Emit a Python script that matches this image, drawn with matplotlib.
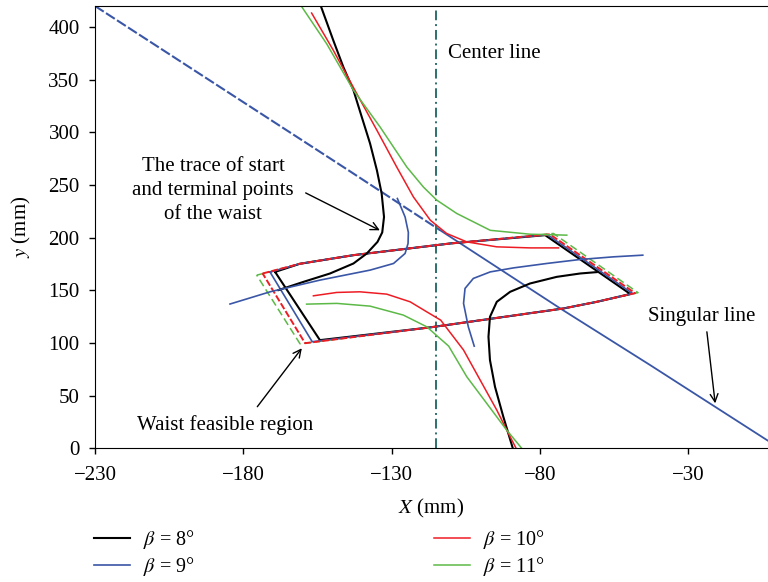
import matplotlib
matplotlib.use("Agg")
import matplotlib.pyplot as plt

#########
#########data#########
#########
betas = [8, 9, 10, 11]
colors = ["#000000", "#3a56a6", "#ed1c24", "#5cb947"]

# upper / left branch of the trace of start and terminal points
upper_x = [
    [-153.9, -149.7, -146.3, -142.9, -140.1, -137.3, -135.0, -133.4, -132.6, -133.2, -134.8,
     -138.4, -142.9, -150.8, -159.8, -168.2],
    [-128.1, -125.5, -124.4, -124.5, -125.5, -129.4, -137.3, -154.2, -171.0, -184.5],
    [-157.0, -149.7, -141.8, -135.0, -128.3, -122.7, -117.0, -111.5, -104.7, -94.6, -83.4, -73.8],
    [-160.5, -151.9, -142.9, -133.9, -124.9, -119.3, -114.8, -108.1, -96.8, -83.4, -71.0],
]
upper_y = [
    [420, 387.4, 362, 340, 314.6, 289.4, 264, 242, 219.7, 205, 196,
     185, 175.5, 166, 158, 150.2],
    [237.2, 219.7, 205, 194.5, 185, 175.5, 169.2, 159.7, 148.6, 137],
    [413.3, 378, 336.8, 302, 267, 238.7, 216.6, 204, 196, 191.3, 190.3, 190.3],
    [420, 384, 340, 305, 267, 248, 235.6, 223, 207, 203.3, 202.4],
]

# lower / right branch
lower_x = [
    [-89.2, -92.4, -95.2, -96.9, -97.4, -96.9, -94.6, -90.1, -83.4, -74.4, -66.5, -60.9],
    [-102.2, -104.2, -105.8, -105.3, -102.5, -96.8, -89.0, -77.8, -66.5, -55.3, -45.4],
    [-156.4, -148.5, -140.7, -131.7, -123.8, -118.2, -113.5, -105.8, -100.2, -94.6, -90.1, -88.1],
    [-158.7, -148.5, -137.3, -126.1, -118.2, -110.8, -104.7, -98.0, -91.3, -86.2],
]
lower_y = [
    [0, 30, 58.4, 83.8, 105.9, 124.8, 139.1, 148.6, 156.5, 162.8, 166, 167.3],
    [97, 115.4, 137.6, 151.8, 161.3, 167.5, 171.3, 175.5, 179.3, 181.8, 183.4],
    [144.8, 148, 148.6, 146.4, 139.1, 129.6, 121.7, 93.3, 64.8, 36.3, 11, 0],
    [136.9, 137.6, 135, 126.5, 115.4, 97, 67.9, 42.7, 17.4, 0],
]

# waist feasible region: corners per beta (top-left, top-right, right, bottom-left)
corner_x = [
    [-169.3, -78.3, -49.6, -154.2],
    [-171.0, -77.5, -48.8, -156.8],
    [-173.5, -76.7, -48.0, -159.2],
    [-175.5, -75.5, -47.0, -160.9],
]
corner_y = [
    [167.5, 202.4, 146.5, 102.7],
    [167.3, 202.8, 146.9, 101.2],
    [166.0, 203.2, 147.3, 99.8],
    [164.4, 204.0, 147.8, 99.2],
]
# shared points along the top and bottom edges
top_edge_x = [-161.0, -142.9, -110.3]
top_edge_y = [175.2, 183.4, 194.5]
bottom_edge_x = [-60.9, -72.1, -117.1]
bottom_edge_y = [139.1, 132.8, 114.8]

singular_x = [-230, -144.6, -113.7, -73.2, -42.9, -3.6, 0]
singular_y = [420, 264, 207.1, 132.8, 79, 7.9, 1.5]
singular_dash_end = 2  # the part left of this point is dashed

center_x = -115.2

xticks = [-230, -180, -130, -80, -30]
yticks = [0, 50, 100, 150, 200, 250, 300, 350, 400]

#########
#########plot#########
#########
plt.rcParams["font.family"] = ["Liberation Serif", "DejaVu Serif"]
plt.rcParams["mathtext.fontset"] = "stix"
plt.rcParams["font.size"] = 15

fig = plt.figure(figsize=(7.68, 5.82), dpi=100)
ax = fig.add_axes([95 / 768, 1 - 448.3 / 582, 1 - 95 / 768, (448.3 - 6) / 582])

# singular line
ax.plot(singular_x[:singular_dash_end + 1], singular_y[:singular_dash_end + 1],
        color="#3a56a6", lw=1.5, dashes=(5, 1.3))
ax.plot(singular_x[singular_dash_end:], singular_y[singular_dash_end:],
        color="#3a56a6", lw=1.3)

# center line
ax.axvline(center_x, color="#2d706b", lw=1.4, linestyle=(0, (5, 2, 1, 2)))

# waist feasible regions
region_styles = [dict(lw=1.5), dict(lw=1.2), dict(lw=1.4, dashes=(3.5, 1.2)), dict(lw=1.1, dashes=(5, 2.5))]
for k in [3, 0, 1, 2]:
    tl, tr, r, bl = zip(corner_x[k], corner_y[k])
    xs = [tl[0]] + top_edge_x + [tr[0], r[0]] + bottom_edge_x + [bl[0], tl[0]]
    ys = [tl[1]] + top_edge_y + [tr[1], r[1]] + bottom_edge_y + [bl[1], tl[1]]
    ax.plot(xs, ys, color=colors[k], **region_styles[k])

lws = [1.5, 1.2, 1.1, 1.1]
for k in range(4):
    ax.plot(upper_x[k], upper_y[k], color=colors[k], lw=lws[k],
            label=r"$\beta$ = %d°" % betas[k])
    ax.plot(lower_x[k], lower_y[k], color=colors[k], lw=lws[k])

# annotations
arrow = dict(arrowstyle="->", lw=1.0, color="k", shrinkA=0, shrinkB=0, mutation_scale=14)
ax.text(-111, 375, "Center line", ha="left", va="center")
ax.text(-190.2, 245, "The trace of start\nand terminal points\nof the waist",
        ha="center", va="center", multialignment="center", linespacing=1.35)
ax.annotate("", xy=(-134, 207), xytext=(-159, 242.5), arrowprops=arrow)
ax.text(-186.2, 22, "Waist feasible region", ha="center", va="center")
ax.annotate("", xy=(-160.3, 95), xytext=(-175.3, 39.5), arrowprops=arrow)
ax.text(-25.5, 124.8, "Singular line", ha="center", va="center")
ax.annotate("", xy=(-21, 42.7), xytext=(-23.8, 110.6), arrowprops=arrow)

ax.set_xlim(-230, -3.2)
ax.set_ylim(0, 420)
ax.set_xticks(xticks)
ax.set_yticks(yticks)
ax.spines["right"].set_visible(False)
ax.tick_params(direction="out", length=4.5, width=1)
ax.tick_params(axis="x", pad=8)
ax.tick_params(axis="y", pad=6.5)
ax.set_xlabel("$X$ (mm)", labelpad=8.7)
ax.set_ylabel("$y$ (mm)", labelpad=11)

handles, labels = ax.get_legend_handles_labels()
fig.legend(handles, labels, ncol=2, frameon=False, loc="upper left", fontsize=14.5,
           bbox_to_anchor=(94 / 768, 1 - 528 / 582), borderpad=0, borderaxespad=0,
           handlelength=1.8, handletextpad=0.65, labelspacing=0.22, columnspacing=11.85)

fig.savefig("out.png", dpi=100)
